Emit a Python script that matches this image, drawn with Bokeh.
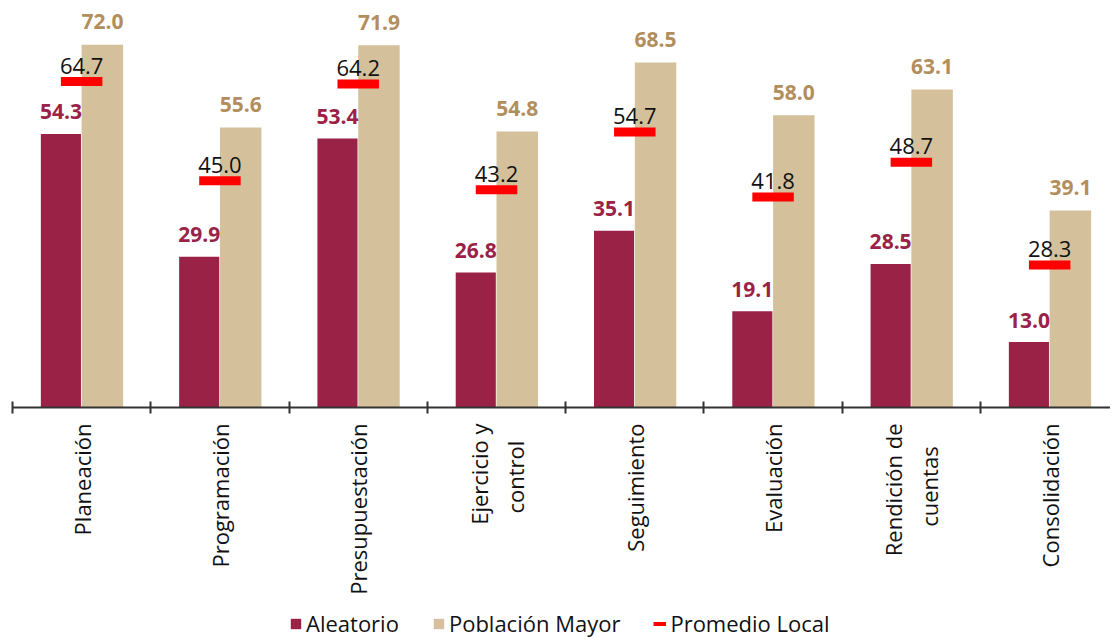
import math
from bokeh.plotting import figure
from bokeh.layouts import column
from bokeh.models import ColumnDataSource, FixedTicker, Legend, LegendItem, Range1d
from bokeh.core.properties import value
from bokeh.embed import file_html
from bokeh.resources import INLINE

NB = "\u00a0"
categories = ["Planeación", "Programación", "Presupuestación", "Ejercicio y\ncontrol" + NB * 3,
              "Seguimiento", "Evaluación", "Rendición de\ncuentas" + NB * 4, "Consolidación"]
aleatorio = [54.3, 29.9, 53.4, 26.8, 35.1, 19.1, 28.5, 13.0]
poblacion = [72.0, 55.6, 71.9, 54.8, 68.5, 58.0, 63.1, 39.1]
promedio = [64.7, 45.0, 64.2, 43.2, 54.7, 41.8, 48.7, 28.3]
series_names = ["Aleatorio", "Población Mayor", "Promedio Local"]

MAROON = "#9B2247"
TAN = "#D4C19C"
GOLD = "#B38E5D"
RED = "#FF0000"
FONT = "Open Sans"

n = len(categories)
centers = [i + 0.5 for i in range(n)]
src = ColumnDataSource(dict(
    x=centers,
    xa=[c - 0.15 for c in centers],
    xp=[c + 0.15 for c in centers],
    a=aleatorio, p=poblacion, m=promedio,
    al=[f"{v:.1f}" for v in aleatorio],
    pl=[f"{v:.1f}" for v in poblacion],
    ml=[f"{v:.1f}" for v in promedio],
))

p = figure(width=1110, height=608,
           x_range=Range1d(0, 7.94), y_range=Range1d(0, 79.2),
           output_backend="svg", toolbar_location=None, y_axis_location=None,
           min_border_left=12, min_border_right=0, min_border_top=8, min_border_bottom=201)
p.outline_line_color = None
p.xgrid.visible = False
p.ygrid.visible = False

p.vbar(x="xa", top="a", width=0.29, fill_color=MAROON, line_color=None, source=src)
p.vbar(x="xp", top="p", width=0.30, fill_color=TAN, line_color=None, source=src)
p.rect(x="x", y="m", width=0.30, height=9, height_units="screen",
       fill_color=RED, line_color=None, source=src)

p.text(x="xa", y="a", text="al", text_align="center", text_baseline="alphabetic",
       y_offset=-22, text_font=value(FONT), text_font_style="bold",
       text_font_size="21px", text_color=MAROON, source=src)
p.text(x="xp", y="p", text="pl", text_align="center", text_baseline="alphabetic",
       y_offset=-23, text_font=value(FONT), text_font_style="bold",
       text_font_size="21px", text_color=GOLD, source=src)
p.text(x="x", y="m", text="ml", text_align="center", text_baseline="alphabetic",
       y_offset=-16, text_font=value(FONT), text_font_size="22px",
       text_color="#111111", source=src)

ax = p.xaxis[0]
ax.ticker = FixedTicker(ticks=centers, minor_ticks=list(range(n + 1)))
ax.major_label_overrides = {c: lab for c, lab in zip(centers, categories)}
ax.major_tick_in = 0
ax.major_tick_out = 0
ax.minor_tick_in = 6
ax.minor_tick_out = 6
ax.minor_tick_line_color = "#333333"
ax.minor_tick_line_width = 2
ax.axis_line_color = "#333333"
ax.axis_line_width = 2
ax.major_label_orientation = math.pi / 2
ax.major_label_standoff = 10
ax.major_label_text_font = FONT
ax.major_label_text_font_size = "22px"
ax.major_label_text_color = "#111111"

# legend strip (legend keys only; their samples lie outside the visible range)
lf = figure(width=1110, height=30, x_range=Range1d(0, 1), y_range=Range1d(0, 1),
            output_backend="svg", toolbar_location=None,
            x_axis_location=None, y_axis_location=None, min_border=0)
lf.outline_line_color = None
lf.xgrid.visible = False
lf.ygrid.visible = False
g1 = lf.vbar(x=[-5], top=[-5], width=1, fill_color=MAROON, line_color=None)
g2 = lf.vbar(x=[-5], top=[-5], width=1, fill_color=TAN, line_color=None)
g3 = lf.line(x=[-5, -4], y=[-5, -5], line_color=RED, line_width=4)

legend = Legend(items=[LegendItem(label=series_names[0], renderers=[g1]),
                       LegendItem(label=series_names[1], renderers=[g2]),
                       LegendItem(label=series_names[2], renderers=[g3])],
                orientation="horizontal", location=(277, 0),
                label_text_font=FONT, label_text_font_size="22px",
                label_text_color="#111111", label_height=24,
                glyph_width=13, glyph_height=13, label_standoff=4, spacing=33,
                padding=0, margin=0, border_line_color=None,
                background_fill_alpha=0)
lf.add_layout(legend)

open("out.html", "w").write(file_html(column(p, lf, spacing=0), INLINE))
